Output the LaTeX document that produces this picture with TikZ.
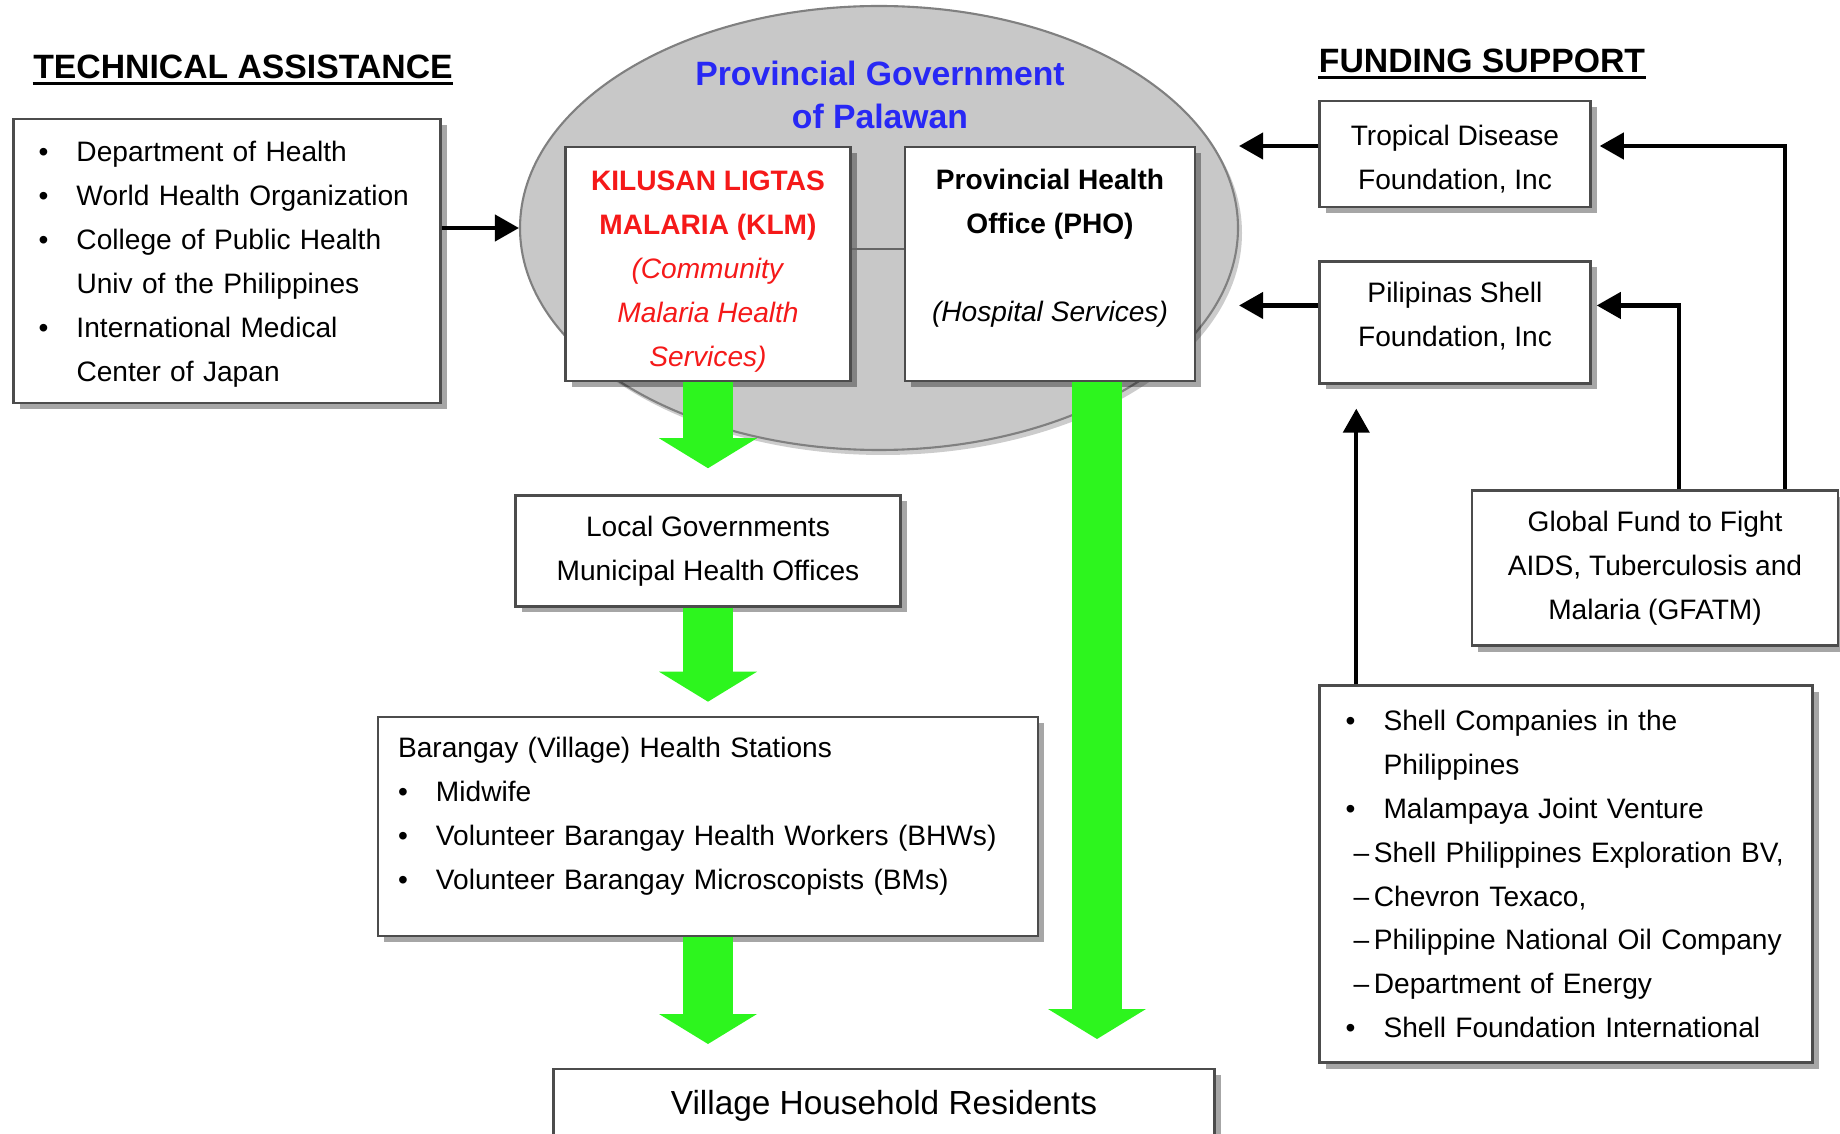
\documentclass[tikz,border=0pt]{standalone}
\usepackage{fontspec}
\setmainfont{Liberation Sans}
\usetikzlibrary{positioning,shapes.geometric,arrows.meta,shadows}

\definecolor{govblue}{RGB}{40,40,245}
\definecolor{klmred}{RGB}{245,25,25}
\definecolor{flowgreen}{RGB}{45,245,30}
\definecolor{ovalgray}{RGB}{200,200,200}

% list lines: bullet, continuation, dash item
\newcommand{\blt}[1]{\mbox{\makebox[3.8mm][l]{\textbullet}#1}}
\newcommand{\cont}[1]{\mbox{\hspace*{3.8mm}#1}}
\newcommand{\subd}[1]{\mbox{\hspace*{0.8mm}--\,#1}}
% invisible struts to nudge a text block up or down inside its box
\newcommand{\uppad}[1]{\rule{0pt}{#1}}
\newcommand{\lowpad}[1]{\rule[-#1]{0pt}{#1}}

\begin{document}
\begin{tikzpicture}[x=0.1mm, y=-0.1mm,
    box/.style = {draw=black!70, line width=0.7pt, fill=white, inner sep=0pt,
      font=\fontsize{8}{12.5}\selectfont,
      drop shadow={shadow xshift=0.6mm, shadow yshift=-0.6mm, fill=black, opacity=0.35}},
    listbox/.style = {box, align=left},
    heading/.style = {font=\fontsize{9.6}{11}\selectfont\bfseries, inner sep=0pt},
    fund/.style = {line width=1.2pt, -{Triangle[length=2.4mm, width=2.6mm]}},
    flow/.style = {draw=flowgreen, line width=5mm,
      -{Triangle[length=3mm, width=9.8mm, line width=0pt]}}]

  \useasboundingbox (0,0) rectangle (1840,1134);

  % headings
  \node[heading] (techhd) at (243,67) {TECHNICAL ASSISTANCE};
  \draw[line width=0.9pt] ([yshift=-0.4mm]techhd.south west) -- ([yshift=-0.4mm]techhd.south east);
  \node[heading] (fundhd) at (1482,61) {FUNDING SUPPORT};
  \draw[line width=0.9pt] ([yshift=-0.4mm]fundhd.south west) -- ([yshift=-0.4mm]fundhd.south east);

  % provincial government
  \node[ellipse, draw=black!50, fill=ovalgray, line width=0.6pt, inner sep=0pt,
        minimum width=71.8mm, minimum height=44.4mm,
        drop shadow={shadow xshift=0.4mm, shadow yshift=-0.5mm, fill=black, opacity=0.2}]
        (pgov) at (879,228) {};
  \node[text=govblue, align=center, font=\fontsize{9.6}{12.3}\selectfont\bfseries]
        (pgovlbl) at (880,95) {Provincial Government\\of Palawan};

  \node[box, text=klmred, align=center, minimum width=28.5mm, minimum height=23.4mm]
        (klm) at (708,264) {\uppad{10pt}\textbf{KILUSAN LIGTAS}\\\textbf{MALARIA (KLM)}\\\textit{(Community}\\\textit{Malaria Health}\\\textit{Services)}};
  \node[box, align=center, minimum width=29mm, minimum height=23.4mm]
        (pho) at (1050,264) {\uppad{7.5pt}\textbf{Provincial Health}\\\textbf{Office (PHO)}\\\mbox{}\\\textit{(Hospital Services)}\\\mbox{}};
  \draw[black!60, line width=0.8pt] ([yshift=1.5mm]klm.east) -- ([yshift=1.5mm]pho.west);

  % technical assistance
  \node[listbox, text width=37.7mm, inner xsep=2.5mm, minimum height=28.4mm]
        (tech) at (227,261) {\uppad{7.8pt}\blt{Department of Health}\\\blt{World Health Organization}\\\blt{College of Public Health}\\\cont{Univ of the Philippines}\\\blt{International Medical}\\\cont{Center of Japan}};
  \draw[fund] (tech.east |- pgov.west) -- (pgov.west);

  % local chain
  \node[box, align=center, minimum width=38.5mm, minimum height=11.1mm]
        (lgu) [below=11.2mm of klm] {Local Governments\\Municipal Health Offices};
  \node[listbox, text width=62mm, inner xsep=2mm, minimum height=21.9mm]
        (brgy) [below=10.8mm of lgu] {Barangay (Village) Health Stations\\\blt{Midwife}\\\blt{Volunteer Barangay Health Workers (BHWs)}\\\blt{Volunteer Barangay Microscopists (BMs)}\lowpad{7.6pt}};
  \node[box, anchor=north, minimum width=66.1mm, text height=3.5mm, text depth=6mm,
        inner ysep=1mm, font=\fontsize{9.5}{11}\selectfont]
        (village) at (884,1068) {Village Household Residents};

  \draw[flow, shorten >=2.6mm] (klm.south) -- (lgu.north);
  \draw[flow, shorten >=1.4mm] (lgu.south) -- (brgy.north);
  \draw[flow, shorten >=2.4mm] (brgy.south) -- (brgy.south |- village.north);
  \coordinate (phoS) at ([xshift=4.7mm]pho.south);
  \draw[flow, shorten >=2.9mm] (phoS) -- (phoS |- village.north);

  % funding support
  \node[box, align=center, minimum width=27.1mm, minimum height=10.6mm]
        (trop) at (1455,154) {\uppad{8.5pt}Tropical Disease\\Foundation, Inc};
  \node[box, align=center, minimum width=27.1mm, minimum height=12.2mm]
        (pil) [below=5.2mm of trop] {Pilipinas Shell\\Foundation, Inc\lowpad{4.5pt}};
  \node[box, align=center, minimum width=36.6mm, minimum height=15.5mm]
        (gf) at (1655,568) {Global Fund to Fight\\AIDS, Tuberculosis and\\Malaria (GFATM)};
  \node[listbox, text width=44.1mm, inner xsep=2.6mm, minimum height=37.7mm]
        (shell) at (1566,874) {\blt{Shell Companies in the}\\\cont{Philippines}\\\blt{Malampaya Joint Venture}\\\subd{Shell Philippines Exploration BV,}\\\subd{Chevron Texaco,}\\\subd{Philippine National Oil Company}\\\subd{Department of Energy}\\\blt{Shell Foundation International}};

  \coordinate (tropW) at ([yshift=0.8mm]trop.west);
  \coordinate (pilW) at ([yshift=1.7mm]pil.west);
  \draw[fund] (tropW) -- (tropW -| pgov.east);
  \draw[fund] (pilW) -- (pilW -| pgov.east);
  \draw[fund, shorten >=0.8mm] ([xshift=13mm]gf.north) |- ([yshift=0.8mm]trop.east);
  \draw[fund, shorten >=0.5mm] ([xshift=2.4mm]gf.north) |- ([yshift=1.7mm]pil.east);
  \coordinate (shellT) at ([xshift=3.8mm]shell.north west);
  \draw[fund, shorten >=2.4mm] (shellT) -- (shellT |- pil.south);

\end{tikzpicture}
\end{document}
